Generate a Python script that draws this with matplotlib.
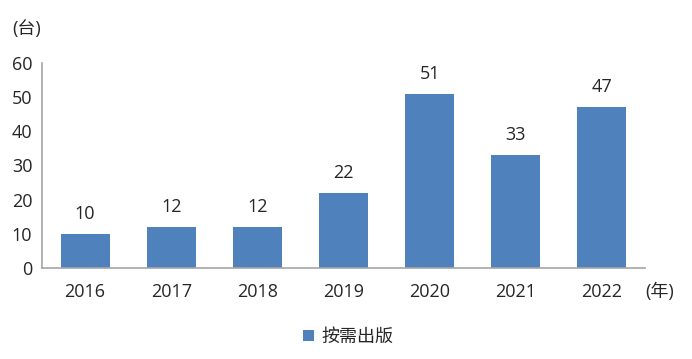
import matplotlib
matplotlib.use("Agg")
import matplotlib.pyplot as plt

plt.rcParams['font.family'] = ['Open Sans', 'Noto Sans CJK SC', 'DejaVu Sans']

years = ["2016", "2017", "2018", "2019", "2020", "2021", "2022"]
values = [10, 12, 12, 22, 51, 33, 47]
series_name = "按需出版"
yticks = [0, 10, 20, 30, 40, 50, 60]

bar_color = "#4F81BD"
text_color = "#262626"

fig = plt.figure(figsize=(6.92, 3.59), dpi=100)
ax = fig.add_axes([42/692, 91/359, 603/692, 205/359])

x = list(range(len(years)))
bars = ax.bar(x, values, width=0.57, color=bar_color, label=series_name)
ax.set_xlim(-0.5, len(years) - 0.5)
ax.set_ylim(0, 60)
ax.set_yticks(yticks)
ax.set_xticks(x)
ax.set_xticklabels(years)
ax.tick_params(axis='both', length=0, labelsize=13, colors=text_color)
ax.tick_params(axis='x', pad=11)
ax.tick_params(axis='y', pad=7)

for s in ['top', 'right']:
    ax.spines[s].set_visible(False)
for s in ['left', 'bottom']:
    ax.spines[s].set_color('#A6A6A6')
    ax.spines[s].set_linewidth(1.2)

for xi, v in zip(x, values):
    ax.annotate(str(v), (xi, v), xytext=(0, 8), textcoords='offset points',
                ha='center', va='bottom', fontsize=13, color=text_color)

fig.text(12/692, 1 - 29/359, "(台)", ha='left', va='center', fontsize=13, color=text_color)
fig.text(645/692, 1 - 292/359, "(年)", ha='left', va='center', fontsize=13, color=text_color)

leg = fig.legend(handles=[bars], labels=[series_name], loc='center',
                 bbox_to_anchor=(348/692, 1 - 337/359), frameon=False,
                 fontsize=13, handlelength=0.6, handleheight=0.6, handletextpad=0.4)
for t in leg.get_texts():
    t.set_color(text_color)

fig.savefig("out.png", dpi=100)
